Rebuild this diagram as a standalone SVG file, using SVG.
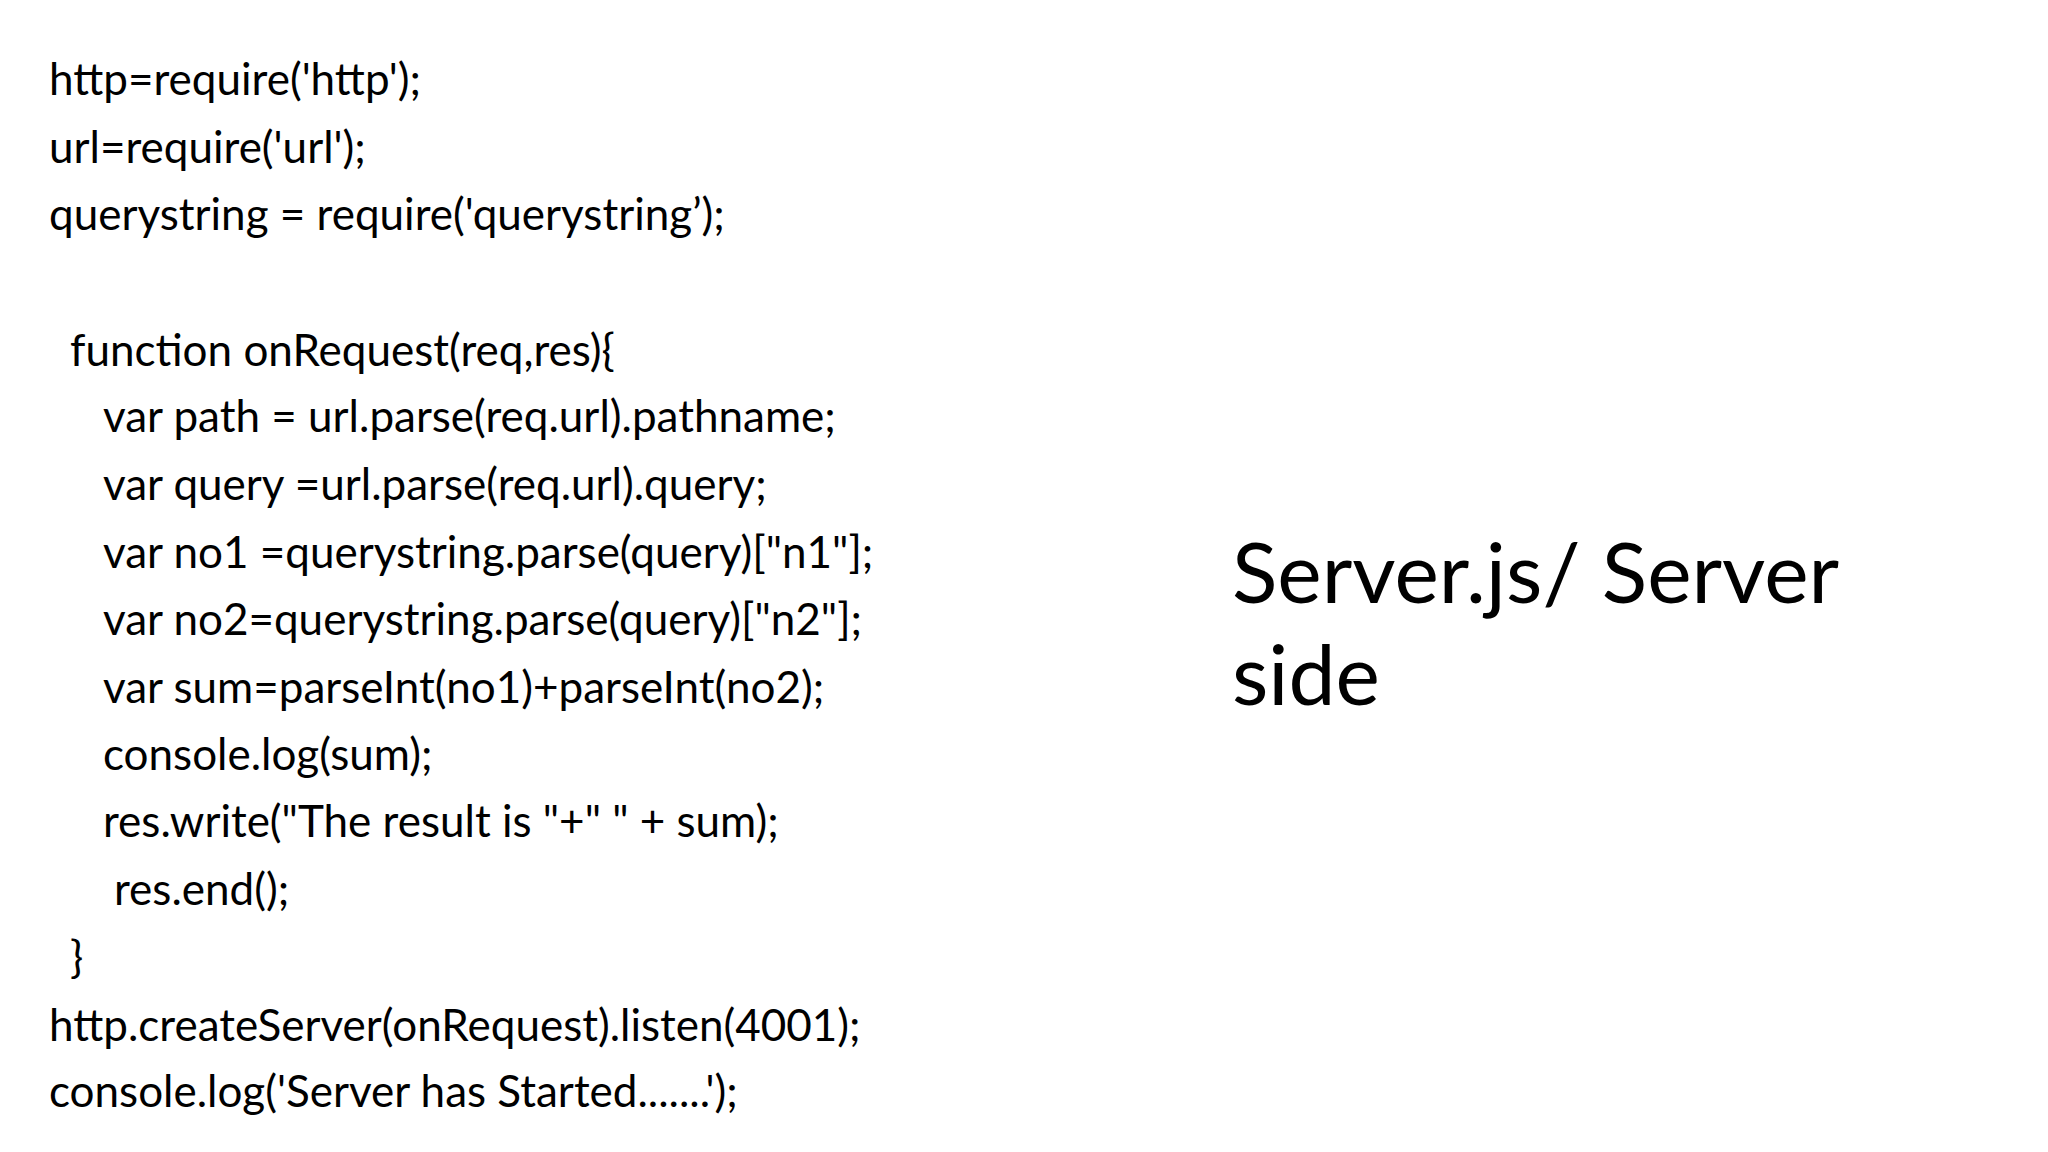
<svg xmlns="http://www.w3.org/2000/svg" width="2048" height="1152" viewBox="0 0 2048 1152">
<style>
.c{font-family:Lato,"Liberation Sans",sans-serif;font-size:44px;fill:#000}
.t{font-family:Lato,"Liberation Sans",sans-serif;font-size:84px;fill:#000}
</style>
<rect width="2048" height="1152" fill="#fff"/>
<g id="code">
<text class="c" x="49" y="95">http=require('http');</text>
<text class="c" x="49" y="163">url=require('url');</text>
<text class="c" x="49" y="230">querystring = require('querystring’);</text>
<text class="c" x="70" y="366">function onRequest(req,res){</text>
<text class="c" x="103" y="432">var path = url.parse(req.url).pathname;</text>
<text class="c" x="103" y="500">var query =url.parse(req.url).query;</text>
<text class="c" x="103" y="568">var no1 =querystring.parse(query)["n1"];</text>
<text class="c" x="103" y="635">var no2=querystring.parse(query)["n2"];</text>
<text class="c" x="103" y="703">var sum=parseInt(no1)+parseInt(no2);</text>
<text class="c" x="103" y="770">console.log(sum);</text>
<text class="c" x="103" y="837">res.write("The result is "+" " + sum);</text>
<text class="c" x="114" y="905">res.end();</text>
<text class="c" x="70" y="973">}</text>
<text class="c" x="49" y="1041">http.createServer(onRequest).listen(4001);</text>
<text class="c" x="49" y="1107">console.log('Server has Started.......');</text>
</g>
<g id="title">
<text class="t" x="1232" y="603">Server.js/ Server</text>
<text class="t" x="1232" y="705">side</text>
</g>
</svg>
